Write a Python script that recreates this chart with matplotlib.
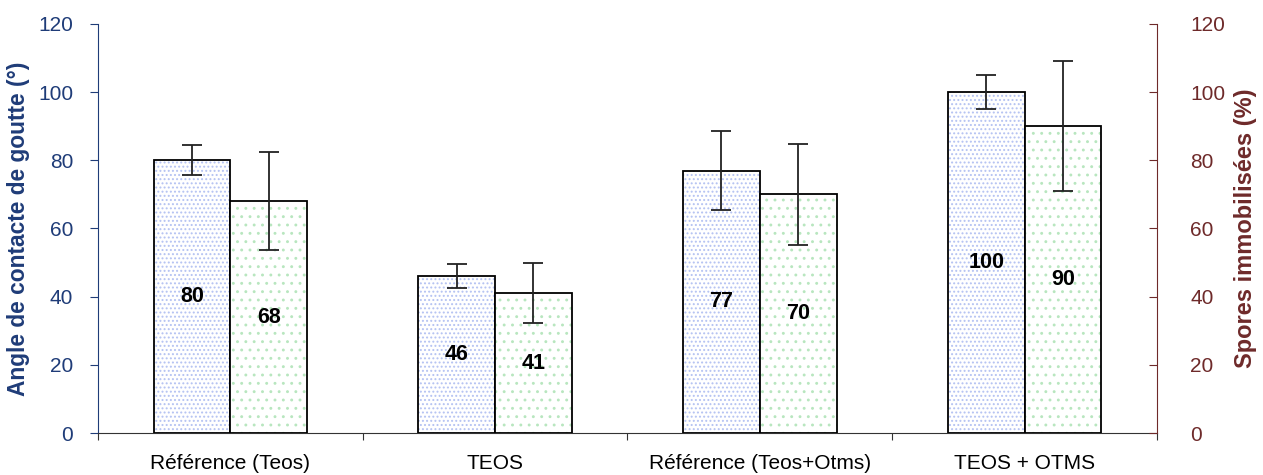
import numpy as np
import matplotlib.pyplot as plt

plt.rcParams['font.family'] = ['Liberation Sans', 'DejaVu Sans']
plt.rcParams['hatch.linewidth'] = 0.9

# Données
categories = ['Référence (Teos)', 'TEOS', 'Référence (Teos+Otms)', 'TEOS + OTMS']
angle = [80, 46, 77, 100]
angle_err = [4.4, 3.5, 11.6, 5.0]
spores = [68, 41, 70, 90]
spores_err = [14.4, 8.8, 14.8, 19.0]

bleu = '#1F3C78'
brun = '#6E2A2A'

fig = plt.figure(figsize=(12.63, 4.75), dpi=100)
ax = fig.add_axes([0.0776, 0.0884, 0.8384, 0.8611])
ax2 = ax.twinx()

x = np.arange(len(categories)) + 0.5
w = 0.29

# remplissage pointillé puis contour noir
ax.bar(x - w / 2, angle, w, color='white', edgecolor='#B4C2F2', hatch='....', linewidth=0)
ax.bar(x - w / 2, angle, w, fill=False, edgecolor='black', linewidth=1.3)
ax.errorbar(x - w / 2, angle, yerr=angle_err, fmt='none', ecolor='#222222',
            elinewidth=1.3, capsize=7, capthick=1.3)

ax2.bar(x + w / 2, spores, w, color='white', edgecolor='#B8E6BF', hatch='..', linewidth=0)
ax2.bar(x + w / 2, spores, w, fill=False, edgecolor='black', linewidth=1.3)
ax2.errorbar(x + w / 2, spores, yerr=spores_err, fmt='none', ecolor='#222222',
             elinewidth=1.3, capsize=7, capthick=1.3)

for xi, v in zip(x - w / 2, angle):
    ax.text(xi, v / 2, str(v), ha='center', va='center', fontsize=15.5, fontweight='bold')
for xi, v in zip(x + w / 2, spores):
    ax2.text(xi, v / 2, str(v), ha='center', va='center', fontsize=15.5, fontweight='bold')

for a in (ax, ax2):
    a.set_ylim(0, 120)
    a.set_xlim(0, len(categories))
    a.spines['top'].set_visible(False)

ax.set_yticks(range(0, 121, 20))
ax2.set_yticks(range(0, 121, 20))
ax.set_xticks(range(len(categories) + 1))
ax.set_xticklabels([])
ax.set_xticks(x, minor=True)
ax.set_xticklabels(categories, minor=True, fontsize=15)
ax.tick_params(axis='x', which='minor', length=0, pad=15)
ax.tick_params(axis='x', which='major', length=5, color='#333333')

ax.spines['left'].set_color(bleu)
ax.spines['right'].set_visible(False)
ax.spines['bottom'].set_color('#333333')
ax.tick_params(axis='y', colors=bleu, labelsize=15, length=6, pad=12)
ax.set_ylabel('Angle de contacte de goutte (°)', color=bleu, fontsize=16.4,
              fontweight='bold', labelpad=6)

ax2.spines['right'].set_color(brun)
ax2.spines['left'].set_visible(False)
ax2.spines['bottom'].set_visible(False)
ax2.tick_params(axis='y', colors=brun, labelsize=15, direction='in', length=6, pad=24)
ax2.set_ylabel('Spores immobilisées (%)', color=brun, fontsize=17,
               fontweight='bold', labelpad=6)

fig.savefig('out.png', dpi=100)
